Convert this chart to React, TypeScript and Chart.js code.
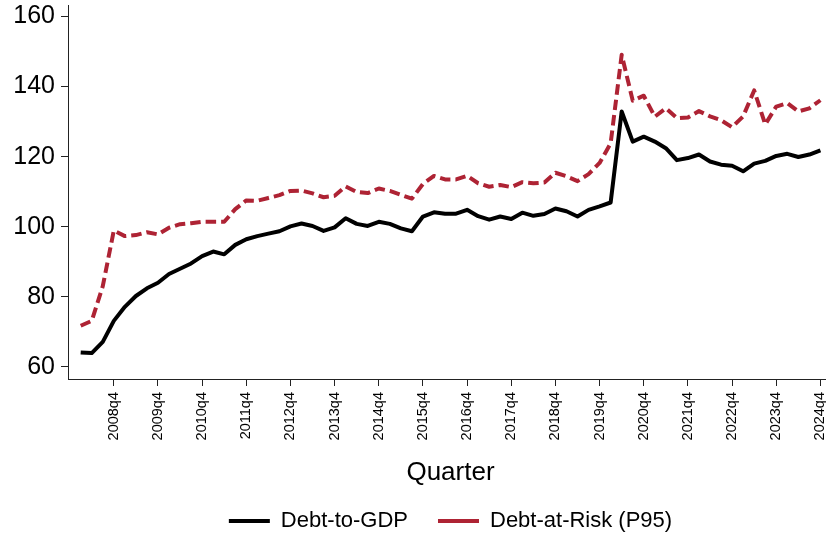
import React, { useEffect, useRef } from 'react';
import { Chart, registerables } from 'chart.js';

Chart.register(...registerables);

// Quarters 2008q1 .. 2024q4 (category labels)
const quarters: string[] = [];
for (let y = 2008; y <= 2024; y++) {
  for (let q = 1; q <= 4; q++) quarters.push(`${y}q${q}`);
}

const debtToGdp: number[] = [
  64.1, 63.9, 67.1, 73.1, 77.1, 80.2, 82.4, 84.0,
  86.5, 88.0, 89.5, 91.6, 92.9, 92.1, 94.8, 96.4,
  97.3, 98.0, 98.7, 100.1, 100.9, 100.2, 98.8, 99.8,
  102.4, 100.8, 100.2, 101.4, 100.8, 99.5, 98.7, 102.9,
  104.1, 103.7, 103.7, 104.8, 103.0, 102.0, 102.9, 102.2,
  104.0, 103.1, 103.6, 105.2, 104.4, 102.9, 104.8, 105.8,
  106.9, 132.9, 124.3, 125.7, 124.3, 122.4, 119.0, 119.6,
  120.6, 118.6, 117.7, 117.4, 115.8, 118.0, 118.8, 120.2,
  120.8, 119.9, 120.6, 121.8,
];

const debtAtRisk: number[] = [
  71.7, 73.1, 83.0, 98.9, 97.3, 97.6, 98.4, 97.8,
  99.7, 100.7, 101.0, 101.4, 101.4, 101.4, 105.0, 107.5,
  107.4, 108.2, 109.0, 110.2, 110.3, 109.5, 108.4, 108.8,
  111.5, 109.9, 109.6, 110.9, 110.2, 109.1, 108.0, 112.2,
  114.5, 113.5, 113.5, 114.5, 112.4, 111.4, 111.9, 111.3,
  112.7, 112.4, 112.6, 115.4, 114.4, 113.0, 115.0, 118.2,
  123.8, 149.1, 136.0, 137.4, 131.4, 133.8, 131.0, 131.2,
  133.0, 131.5, 130.4, 128.4, 131.5, 138.9, 129.2, 134.3,
  135.3, 132.9, 133.8, 136.1,
];

const xTickLabels: string[] = [
  '2008q4', '2009q4', '2010q4', '2011q4', '2012q4', '2013q4', '2014q4', '2015q4', '2016q4',
  '2017q4', '2018q4', '2019q4', '2020q4', '2021q4', '2022q4', '2023q4', '2024q4',
];

const yTickValues: number[] = [60, 80, 100, 120, 140, 160];

const seriesLabels = ['Debt-to-GDP', 'Debt-at-Risk (P95)'];

const FONT = "'Liberation Sans', Arial, Helvetica, sans-serif";
const RED = '#AE2334';
const AXIS = '#222';

export default function App() {
  const ref = useRef<HTMLCanvasElement>(null);

  useEffect(() => {
    const canvas = ref.current;
    if (!canvas) return;
    const chart = new Chart(canvas, {
      type: 'line',
      data: {
        datasets: [
          {
            label: seriesLabels[0],
            data: debtToGdp.map((v, i) => ({ x: i, y: v })),
            borderColor: '#000',
            backgroundColor: '#000',
            borderWidth: 4,
            pointRadius: 0,
            tension: 0,
            fill: false,
            borderJoinStyle: 'round',
          },
          {
            label: seriesLabels[1],
            data: debtAtRisk.map((v, i) => ({ x: i, y: v })),
            borderColor: RED,
            backgroundColor: RED,
            borderWidth: 4,
            borderDash: [10.5, 5],
            pointRadius: 0,
            tension: 0,
            fill: false,
            borderJoinStyle: 'round',
          },
        ],
      },
      options: {
        responsive: false,
        animation: false,
        events: [],
        layout: { padding: { top: 5, right: 7, bottom: 0, left: 0 } },
        plugins: {
          legend: {
            position: 'bottom',
            fullSize: false,
            maxHeight: 57,
            labels: {
              usePointStyle: true,
              pointStyle: 'line',
              pointStyleWidth: 41,
              boxHeight: 22,
              padding: 30,
              color: '#000',
              font: { family: FONT, size: 22 },
            },
          },
          tooltip: { enabled: false },
        },
        scales: {
          x: {
            type: 'linear',
            min: -1.15,
            max: 68.14,
            grid: { drawOnChartArea: false, drawTicks: true, tickLength: 7, color: AXIS, lineWidth: 1 },
            border: { display: true, color: AXIS, width: 1 },
            ticks: {
              autoSkip: false,
              minRotation: 90,
              maxRotation: 90,
              padding: 6,
              color: '#000',
              font: { family: FONT, size: 14.5 },
              callback: (v: any) => quarters[Math.round(Number(v))] ?? '',
            },
            afterBuildTicks: (s: any) => {
              s.ticks = xTickLabels.map((l) => ({ value: quarters.indexOf(l) }));
            },
            afterFit: (s: any) => {
              s.height = 101;
              s.paddingLeft = 0;
              s.paddingRight = 0;
            },
            title: {
              display: true,
              text: 'Quarter',
              color: '#000',
              font: { family: FONT, size: 26, lineHeight: 1 },
              padding: { top: 0, bottom: -6 },
            },
          },
          y: {
            type: 'linear',
            min: 56.5,
            max: 163.3,
            grid: { drawOnChartArea: false, drawTicks: true, tickLength: 7, color: AXIS, lineWidth: 1 },
            border: { display: true, color: AXIS, width: 1 },
            ticks: {
              padding: 6,
              color: '#000',
              font: { family: FONT, size: 25 },
            },
            afterBuildTicks: (s: any) => {
              s.ticks = yTickValues.map((v) => ({ value: v }));
            },
            afterFit: (s: any) => {
              s.width = 68;
              s.paddingTop = 0;
              s.paddingBottom = 0;
            },
          },
        },
      } as any,
    });
    return () => chart.destroy();
  }, []);

  return (
    <div
      style={{
        position: 'absolute',
        left: 0,
        top: 0,
        width: 826,
        height: 537,
        overflow: 'hidden',
        background: '#fff',
      }}
    >
      <canvas ref={ref} width={840} height={537} style={{ display: 'block' }} />
    </div>
  );
}
